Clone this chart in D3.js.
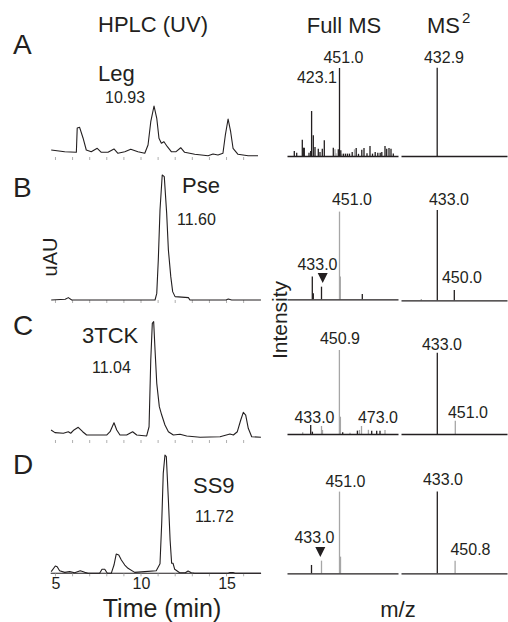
<!DOCTYPE html>
<html><head><meta charset="utf-8">
<script src="https://cdn.jsdelivr.net/npm/d3@7"></script>
<style>
body{margin:0;background:#fff}
svg{display:block}
text{font-family:"Liberation Sans",Arial,sans-serif;fill:#231f20}
</style>
</head><body>
<svg id="chart" width="508" height="622"></svg>
<script>
// ---------------- DATA ----------------
const rowLetters = ["A","B","C","D"];
const compounds = ["Leg","Pse","3TCK","SS9"];
const retentionTimes = ["10.93","11.60","11.04","11.72"];
const timeTicks = [5,6,7,8,9,10,11,12,13,14,15,16];
const timeTickLabels = [5,10,15];

// HPLC traces: [time (min), relative absorbance]
const hplcA = [[4.78,13.7],[5.57,10.4],[6.25,9.2],[6.30,56.9],[6.44,58.2],[6.64,37.3],[6.83,13.7],[7.12,10.4],[7.47,17.1],[7.71,9.2],[8.10,9.2],[8.45,15.7],[8.68,7.3],[9.08,10.4],[9.43,15.1],[9.85,10.4],[10.25,7.3],[10.44,23.5],[10.60,69.2],[10.79,100],[10.95,75.9],[11.08,36.7],[11.22,26.9],[11.37,30],[11.57,20.2],[11.80,10.4],[12.08,10.4],[12.35,18.2],[12.58,9.2],[13.17,5.3],[13.95,2.5],[14.24,5.9],[14.53,3.9],[14.82,7.3],[14.96,43.1],[15.12,74.5],[15.27,49.6],[15.41,17.1],[15.70,5.3],[16.29,2.5],[16.87,2.5]];
const hplcB = [[4.78,0],[5.60,0.6],[5.78,1.9],[5.98,0],[10.85,0],[10.95,5.3],[11.04,32],[11.14,72],[11.27,100],[11.39,98.7],[11.53,69.3],[11.63,40],[11.77,18.7],[11.88,6.7],[12.02,2.7],[12.80,1.9],[12.89,0],[15.00,0],[15.13,0.8],[15.33,0],[17.04,0]];
const hplcC = [[4.77,8.5],[5.00,6.2],[5.49,5.7],[5.78,7.0],[5.92,5.7],[6.11,8.5],[6.36,10.7],[6.62,7.0],[6.85,4.2],[8.02,4.2],[8.22,7.0],[8.45,14.6],[8.61,8.5],[8.80,4.2],[9.19,4.2],[9.54,7.0],[9.78,4.2],[10.36,3.4],[10.50,11.2],[10.60,67.6],[10.69,98.6],[10.77,100],[10.85,76.1],[10.95,47.9],[11.10,28.2],[11.24,21.1],[11.43,12.7],[11.63,7.0],[11.92,4.2],[12.31,4.8],[12.70,3.4],[13.48,2.3],[14.65,2.8],[15.23,5.1],[15.43,4.2],[15.66,7.0],[15.86,16.9],[16.01,23.4],[16.15,21.1],[16.30,9.9],[16.50,2.8],[17.04,2.3]];
const hplcD = [[4.78,1.4],[5.02,6.2],[5.13,5.6],[5.27,2.2],[5.57,0.8],[5.86,1.4],[6.15,0.5],[6.48,2.2],[6.74,0.8],[6.93,0],[7.12,0],[7.61,0],[7.75,3.4],[7.91,3.4],[8.06,0],[8.29,0],[8.45,7.0],[8.58,16.3],[8.73,15.5],[8.88,11.2],[9.08,7.0],[9.27,4.2],[9.66,0.8],[10.25,1.4],[10.92,2.2],[11.14,8.0],[11.24,42.5],[11.33,84.5],[11.43,100],[11.51,98.6],[11.63,62],[11.73,28.2],[11.82,8.5],[11.90,8.5],[12.00,3.4],[12.29,0.5],[12.62,0.5],[12.78,2.0],[12.97,0.5],[13.17,0],[15.12,0],[15.23,0.6],[15.41,0.6],[15.53,0],[17.04,0]];

// Full MS spectra: [m/z, relative intensity]; dark = main ions, grey = second trace
const fullA_dark = [[405.8,5.7],[408.2,3.8],[413.8,18.6],[414.8,9.5],[415.8,9.5],[420.5,3.8],[422.2,5.7],[423.1,51.1],[424.8,23.5],[426.5,10.2],[429.8,8.3],[431.5,4.5],[433.8,8.3],[435.8,17.8],[444.8,9.5],[449.8,7.6],[451.0,100],[452.3,6.4],[455,2.7],[457,2.7],[459,2.7],[461,2.7],[463.7,4.5],[467.7,9.1],[470,2.5],[473.3,7.2],[475.5,9.1],[478.5,3],[481.5,11.4],[484,2.7],[486.7,4.5],[489.3,3.8],[491.7,3.8],[493.3,4.5],[496.5,11.4],[498.2,8.3],[500.5,9.1],[502.5,8.3],[504.8,2.7]];
const fullA_grey = [[446.5,7.6],[447.5,3],[453.5,2.5],[466,7.6]];
const fullB_dark = [[423.8,25.9],[424.8,6.8],[433.0,14.4],[473.8,6.1]];
const fullB_grey = [[451.0,100],[451.8,25.9]];
const fullC_dark = [[422.2,10.7],[423.9,2.8],[454.2,2],[468.9,4],[483.2,4],[488.2,4],[491.5,4]];
const fullC_grey = [[414.2,2],[433.0,9.5],[434.0,4.8],[450.9,100],[451.9,20.6],[461.5,1.6],[470.9,4.8],[473.0,9.5],[479.9,5],[496.5,4.8]];
const fullD_dark = [[423.0,10.2]];
const fullD_grey = [[433.0,15.5],[451.0,100],[452.0,20.4]];

// MS2 spectra
const ms2A_dark = [[432.9,100]];
const ms2A_grey = [];
const ms2B_dark = [[433.0,100],[450.0,11.4]];
const ms2B_grey = [[417.0,1.5]];
const ms2C_dark = [[433.0,100]];
const ms2C_grey = [[451.0,16.4]];
const ms2D_dark = [[433.0,100]];
const ms2D_grey = [[450.8,15.5]];

// Peak annotations: [m/z, intensity, label]
const fullLabels = [
  [[451.0,100,"451.0"],[423.1,51.1,"423.1"]],
  [[451.0,100,"451.0"],[433.0,14.4,"433.0"]],
  [[450.9,100,"450.9"],[433.0,9.5,"433.0"],[473.0,9.5,"473.0"]],
  [[451.0,100,"451.0"],[433.0,15.5,"433.0"]]
];
const ms2Labels = [
  [[432.9,100,"432.9"]],
  [[433.0,100,"433.0"],[450.0,11.4,"450.0"]],
  [[433.0,100,"433.0"],[451.0,16.4,"451.0"]],
  [[433.0,100,"433.0"],[450.8,15.5,"450.8"]]
];
const markedIon = [null, 433.0, null, 433.0];

// ---------------- LAYOUT ----------------
const hplcSeries = [hplcA,hplcB,hplcC,hplcD];
const fullDark = [fullA_dark,fullB_dark,fullC_dark,fullD_dark];
const fullGrey = [fullA_grey,fullB_grey,fullC_grey,fullD_grey];
const ms2Dark = [ms2A_dark,ms2B_dark,ms2C_dark,ms2D_dark];
const ms2Grey = [ms2A_grey,ms2B_grey,ms2C_grey,ms2D_grey];

const L = {
  hplcAxisY:[157,300,440,573.3], hplcH:[51,125,118.3,118.3],
  fullAxisY:[156,299.3,434,573.3], fullH:[88,87.7,84,81.7],
  ms2AxisY:[156,300.3,434,573.3], ms2H:[88.3,90.3,81.3,81.7],
  letterY:[54,197,335,474],
  compound:[[98,81],[182,193],[82,343],[193,493]],
  rt:[[105,102.7],[177,225],[92,372.7],[195,521.7]],
  fullLabelOff:[ [[4,-4.7],[5.4,-27.7]], [[12.5,-6.6],[-4,-16.7]], [[0.6,-6],[-7,-3.3],[16.5,-3.3]], [[6,-5],[-7,-17.3]] ],
  ms2LabelOff:[ [[6.8,-4.4]], [[11.7,-5],[7.7,-7.3]], [[4.7,-2.7],[12.7,-2.4]], [[5.7,-6.7],[15.4,-5.7]] ],
  triOff:[null,[1.2,-3.7],null,[-1.2,-3.6]]
};

const svg = d3.select("#chart");
const GREY = "#a6a6a6", INK = "#231f20";

const xTime = d3.scaleLinear().domain([4.75,17.05]).range([50.7,261.1]);
const xFull = d3.scaleLinear().domain([398.5,509.5]).range([287,398]);
const xMs2 = d3.scaleLinear().domain([396.7,502.7]).range([401,507]);

// titles
svg.append("text").attr("x",98).attr("y",32).attr("font-size",22).text("HPLC (UV)");
svg.append("text").attr("x",306.7).attr("y",33).attr("font-size",22).text("Full MS");
const ms2t = svg.append("text").attr("x",427).attr("y",33).attr("font-size",22);
ms2t.append("tspan").text("MS");
ms2t.append("tspan").attr("font-size",15).attr("dy",-10).attr("dx",2).text("2");

rowLetters.forEach((letter,i)=>{
  svg.append("text").attr("x",13).attr("y",L.letterY[i]).attr("font-size",28).text(letter);

  // ---- HPLC ----
  const y0 = L.hplcAxisY[i];
  const yH = d3.scaleLinear().domain([0,100]).range([y0, y0 - L.hplcH[i]]);
  const ax = d3.axisBottom(xTime).tickValues(timeTicks).tickSize(3).tickFormat("");
  const g = svg.append("g").attr("transform",`translate(0,${y0})`).call(ax);
  g.selectAll(".tick line").attr("stroke","#9a9a9a").attr("stroke-width",0.8);
  if(i===3){
    g.select(".domain").attr("stroke",INK).attr("stroke-width",1.1).attr("d",`M${xTime.range()[0]},0H${xTime.range()[1]}`);
  } else {
    g.select(".domain").remove();
  }
  svg.append("path").datum(hplcSeries[i])
    .attr("fill","none").attr("stroke",INK).attr("stroke-width",1.1)
    .attr("stroke-linejoin","round")
    .attr("d", d3.line().x(d=>xTime(d[0])).y(d=>yH(d[1])));

  svg.append("text").attr("x",L.compound[i][0]).attr("y",L.compound[i][1]).attr("font-size",22).text(compounds[i]);
  svg.append("text").attr("x",L.rt[i][0]).attr("y",L.rt[i][1]).attr("font-size",16).text(retentionTimes[i]);

  // ---- Full MS ----
  const f0 = L.fullAxisY[i];
  const yF = d3.scaleLinear().domain([0,100]).range([f0, f0 - L.fullH[i]]);
  const fg = svg.append("g");
  fg.selectAll("line.g").data(fullGrey[i]).join("line")
    .attr("x1",d=>xFull(d[0])).attr("x2",d=>xFull(d[0]))
    .attr("y1",yF(0)).attr("y2",d=>yF(d[1])).attr("stroke",GREY).attr("stroke-width",1.3);
  fg.selectAll("line.d").data(fullDark[i]).join("line")
    .attr("x1",d=>xFull(d[0])).attr("x2",d=>xFull(d[0]))
    .attr("y1",yF(0)).attr("y2",d=>yF(d[1])).attr("stroke",INK).attr("stroke-width",1.3);
  svg.append("g").attr("transform",`translate(0,${f0})`)
    .call(d3.axisBottom(xFull).tickValues([]).tickSizeOuter(0))
    .select(".domain").attr("stroke",INK).attr("stroke-width",1.3);
  fullLabels[i].forEach((lb,k)=>{
    const off = L.fullLabelOff[i][k];
    svg.append("text").attr("x",xFull(lb[0])+off[0]).attr("y",yF(lb[1])+off[1])
      .attr("text-anchor","middle").attr("font-size",16).text(lb[2]);
  });
  if(markedIon[i]!==null){
    const mk = fullGrey[i].concat(fullDark[i]).find(d=>d[0]===markedIon[i]);
    const tx = xFull(mk[0]) + L.triOff[i][0], ty = yF(mk[1]) + L.triOff[i][1];
    svg.append("path").attr("d",`M${tx-5},${ty-10}L${tx+5},${ty-10}L${tx},${ty}Z`).attr("fill",INK);
  }

  // ---- MS2 ----
  const m0 = L.ms2AxisY[i];
  const yM = d3.scaleLinear().domain([0,100]).range([m0, m0 - L.ms2H[i]]);
  const mg = svg.append("g");
  mg.selectAll("line.g").data(ms2Grey[i]).join("line")
    .attr("x1",d=>xMs2(d[0])).attr("x2",d=>xMs2(d[0]))
    .attr("y1",yM(0)).attr("y2",d=>yM(d[1])).attr("stroke",GREY).attr("stroke-width",1.3);
  mg.selectAll("line.d").data(ms2Dark[i]).join("line")
    .attr("x1",d=>xMs2(d[0])).attr("x2",d=>xMs2(d[0]))
    .attr("y1",yM(0)).attr("y2",d=>yM(d[1])).attr("stroke",INK).attr("stroke-width",1.3);
  svg.append("g").attr("transform",`translate(0,${m0})`)
    .call(d3.axisBottom(xMs2).tickValues([]).tickSizeOuter(0))
    .select(".domain").attr("stroke",INK).attr("stroke-width",1.3);
  ms2Labels[i].forEach((lb,k)=>{
    const off = L.ms2LabelOff[i][k];
    svg.append("text").attr("x",xMs2(lb[0])+off[0]).attr("y",yM(lb[1])+off[1])
      .attr("text-anchor","middle").attr("font-size",16).text(lb[2]);
  });
});

// time tick labels (bottom panel)
svg.selectAll("text.tl").data(timeTickLabels).join("text")
  .attr("x",d=>xTime(d)+1).attr("y",589).attr("text-anchor","middle").attr("font-size",16).text(d=>d);

// axis titles
svg.append("text").attr("x",162).attr("y",617).attr("text-anchor","middle").attr("font-size",25).text("Time (min)");
svg.append("text").attr("x",398).attr("y",617).attr("text-anchor","middle").attr("font-size",22).text("m/z");
svg.append("text").attr("transform","translate(57,257) rotate(-90)").attr("text-anchor","middle").attr("font-size",20).text("uAU");
svg.append("text").attr("transform","translate(287,320) rotate(-90)").attr("text-anchor","middle").attr("font-size",21).text("Intensity");
</script>
</body></html>
